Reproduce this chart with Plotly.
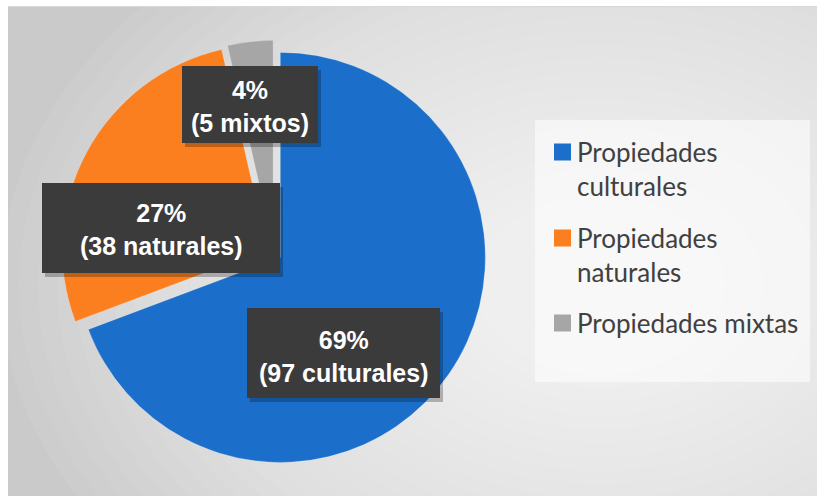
import plotly.graph_objects as go

# ---------------- data ----------------
categories = ["Propiedades culturales", "Propiedades naturales", "Propiedades mixtas"]
legend_labels = ["Propiedades<br>culturales", "Propiedades<br>naturales", "Propiedades mixtas"]
counts = [97, 38, 5]
count_words = ["culturales", "naturales", "mixtos"]
colors = ["#1b6fca", "#fb7f1f", "#a6a6a6"]

W, H = 817, 496
total = sum(counts)
percents = [round(100 * c / total) for c in counts]


def px(x):
    return x / W


def py(y):
    return 1 - y / H


# ---------------- pie ----------------
pull = 0.0375
cx, cy, R = 274, 253, 205
half = R * (1 + pull)
fig = go.Figure(
    go.Pie(
        labels=categories,
        values=counts,
        marker=dict(colors=colors, line=dict(color="rgba(255,255,255,0.4)", width=0.5)),
        sort=False,
        direction="clockwise",
        rotation=0,
        pull=[pull] * len(counts),
        textinfo="none",
        showlegend=False,
        domain=dict(x=[px(cx - half), px(cx + half)], y=[py(cy + half), py(cy - half)]),
    )
)

shapes = []
# background base
shapes.append(dict(type="rect", xref="paper", yref="paper", x0=px(8), x1=px(817), y0=py(496), y1=py(6),
                   fillcolor="#cacaca", line=dict(width=0), layer="below"))
# radial-ish gradient via stacked translucent ellipses
gx, gy = 600, 285
n = 30
for i in range(n):
    rx = 600 - i * 19
    ry = rx * 0.72
    shapes.append(dict(type="circle", xref="paper", yref="paper",
                       x0=px(gx - rx), x1=px(gx + rx), y0=py(gy + ry), y1=py(gy - ry),
                       fillcolor="rgba(255,255,255,0.06)", line=dict(width=0), layer="below"))
# white margins
shapes.append(dict(type="rect", xref="paper", yref="paper", x0=0, x1=px(8), y0=0, y1=1,
                   fillcolor="white", line=dict(width=0), layer="below"))
shapes.append(dict(type="rect", xref="paper", yref="paper", x0=0, x1=1, y0=py(6), y1=1,
                   fillcolor="white", line=dict(width=0), layer="below"))
shapes.append(dict(type="line", xref="paper", yref="paper", x0=px(8), x1=1, y0=py(6.5), y1=py(6.5),
                   line=dict(color="#d8d8d8", width=1), layer="below"))

# legend box
shapes.append(dict(type="rect", xref="paper", yref="paper", x0=px(535), x1=px(810), y0=py(382), y1=py(120),
                   fillcolor="rgba(255,255,255,0.55)", line=dict(width=0), layer="below"))

# data label boxes (culturales, naturales, mixtos)
box_px = [(247, 308, 440, 398), (42, 183, 280, 273), (182, 66, 318, 143)]
text_y = [356, 229, 107]
annotations = []
label_font = "Liberation Sans, Arial, sans-serif"
for i, (x0, y0, x1, y1) in enumerate(box_px):
    shapes.append(dict(type="rect", xref="paper", yref="paper", x0=px(x0 + 3), x1=px(x1 + 3),
                       y0=py(y1 + 4), y1=py(y0 + 4), fillcolor="rgba(0,0,0,0.25)",
                       line=dict(width=0), layer="above"))
    shapes.append(dict(type="rect", xref="paper", yref="paper", x0=px(x0), x1=px(x1),
                       y0=py(y1), y1=py(y0), fillcolor="#3c3b3b", line=dict(width=0), layer="above"))
    xc = (x0 + x1) / 2
    txt = f"<b>{percents[i]}%<br>({counts[i]} {count_words[i]})</b>"
    annotations.append(dict(text=txt, xref="paper", yref="paper", x=px(xc), y=py(text_y[i]),
                            xanchor="center", yanchor="middle", showarrow=False, align="center",
                            font=dict(family=label_font, size=25, color="white")))

# custom legend
leg_y = [152, 238, 323]
leg_font = 26
for i in range(len(categories)):
    yc = leg_y[i]
    shapes.append(dict(type="rect", xref="paper", yref="paper", x0=px(554), x1=px(571),
                       y0=py(yc + 8.5), y1=py(yc - 8.5), fillcolor=colors[i], line=dict(width=0),
                       layer="above"))
    annotations.append(dict(text=legend_labels[i], xref="paper", yref="paper", x=px(575),
                            y=py(yc - 0.65 * leg_font - 1), xanchor="left", yanchor="top", align="left",
                            showarrow=False,
                            font=dict(family="Lato, Open Sans, sans-serif", size=leg_font, color="#404040")))

fig.update_layout(
    width=W, height=H,
    margin=dict(l=0, r=0, t=0, b=0),
    paper_bgcolor="white",
    plot_bgcolor="white",
    shapes=shapes,
    annotations=annotations,
    showlegend=False,
)

fig.write_html("out.html")
